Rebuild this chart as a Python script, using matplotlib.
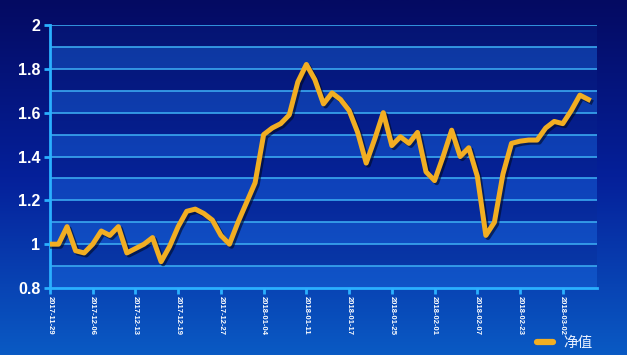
import matplotlib
matplotlib.use('Agg')
import matplotlib.pyplot as plt
import numpy as np
import matplotlib.patheffects as pe
from matplotlib.colors import LinearSegmentedColormap

values = [1.00, 1.00, 1.08, 0.97, 0.96, 1.00, 1.06, 1.04, 1.08, 0.96,
          0.98, 1.00, 1.03, 0.92, 0.99, 1.08, 1.15, 1.16, 1.14, 1.11,
          1.04, 1.00, 1.10, 1.19, 1.28, 1.50, 1.53, 1.55, 1.59, 1.74,
          1.82, 1.75, 1.64, 1.69, 1.66, 1.61, 1.51, 1.37, 1.48, 1.60,
          1.45, 1.49, 1.46, 1.51, 1.33, 1.29, 1.40, 1.52, 1.40, 1.44,
          1.31, 1.04, 1.10, 1.32, 1.46, 1.47, 1.475, 1.475, 1.53, 1.56,
          1.55, 1.61, 1.68, 1.66]
tick_labels = ['2017-11-29', '2017-12-06', '2017-12-13', '2017-12-19', '2017-12-27',
               '2018-01-04', '2018-01-11', '2018-01-17', '2018-01-25', '2018-02-01',
               '2018-02-07', '2018-02-23', '2018-03-02']
tick_step = 5
series_name = '净值'

fig = plt.figure(figsize=(6.27, 3.55), dpi=100)
bg = fig.add_axes([0, 0, 1, 1], zorder=-10)
grad = np.linspace(0, 1, 256).reshape(-1, 1)
cmap = LinearSegmentedColormap.from_list('bg', ['#040a62', '#05209a', '#0a5ac4'])
bg.imshow(grad, aspect='auto', cmap=cmap, extent=[0, 1, 0, 1])
bg.axis('off')

ax = fig.add_axes([0.0797, 0.1887, 0.8724, 0.7409])
ax.patch.set_alpha(0)
ax.set_ylim(0.8, 2.0)
ax.set_xlim(0, len(values))

for lo in np.arange(0.8, 1.95, 0.2):
    ax.axhspan(lo, lo + 0.1, color='#1a6ae0', alpha=0.45, lw=0, zorder=0)
    ax.axhspan(lo + 0.1, lo + 0.2, color='#0a2a90', alpha=0.25, lw=0, zorder=0)
for g in np.arange(0.9, 2.05, 0.1):
    ax.axhline(g, color='#3aa8f0', lw=1.2, zorder=1)

x = np.arange(len(values))
ax.plot(x, values, color='#f2ae22', lw=3.6, solid_joinstyle='round', zorder=3,
        label=series_name,
        path_effects=[pe.SimpleLineShadow(offset=(1.5, -1.5), shadow_color='#000820', alpha=0.6),
                      pe.Normal()])

ax.set_xticks(np.arange(0, len(tick_labels) * tick_step, tick_step))
ax.set_xticklabels(tick_labels, rotation=-90, fontsize=5.5, fontweight='bold', color='white',
                   family='Liberation Sans')
ax.set_yticks([0.8, 1.0, 1.2, 1.4, 1.6, 1.8, 2.0])
ax.set_yticklabels(['0.8', '1', '1.2', '1.4', '1.6', '1.8', '2'], fontsize=11.5,
                   fontweight='bold', color='white', family='Liberation Sans')
ax.tick_params(axis='both', colors='#2ab0ff', length=4, width=2)
ax.tick_params(axis='x', pad=2, labelcolor='white')
ax.tick_params(axis='y', pad=3, labelcolor='white')
for s in ['top', 'right']:
    ax.spines[s].set_visible(False)
for s in ['left', 'bottom']:
    ax.spines[s].set_color('#2ab0ff')
    ax.spines[s].set_linewidth(2)

leg = fig.legend(loc='center right', bbox_to_anchor=(0.945, 0.033), frameon=False,
                 borderpad=0, borderaxespad=0,
                 prop={'family': ['Noto Sans CJK SC', 'DejaVu Sans'], 'size': 10.5},
                 handlelength=1.1, handletextpad=0.7)
for t in leg.get_texts():
    t.set_color('#e8f0ff')
for l in leg.get_lines():
    l.set_linewidth(4.5)
    l.set_solid_capstyle('round')
    l.set_path_effects([])

fig.savefig('out.png', dpi=100)
